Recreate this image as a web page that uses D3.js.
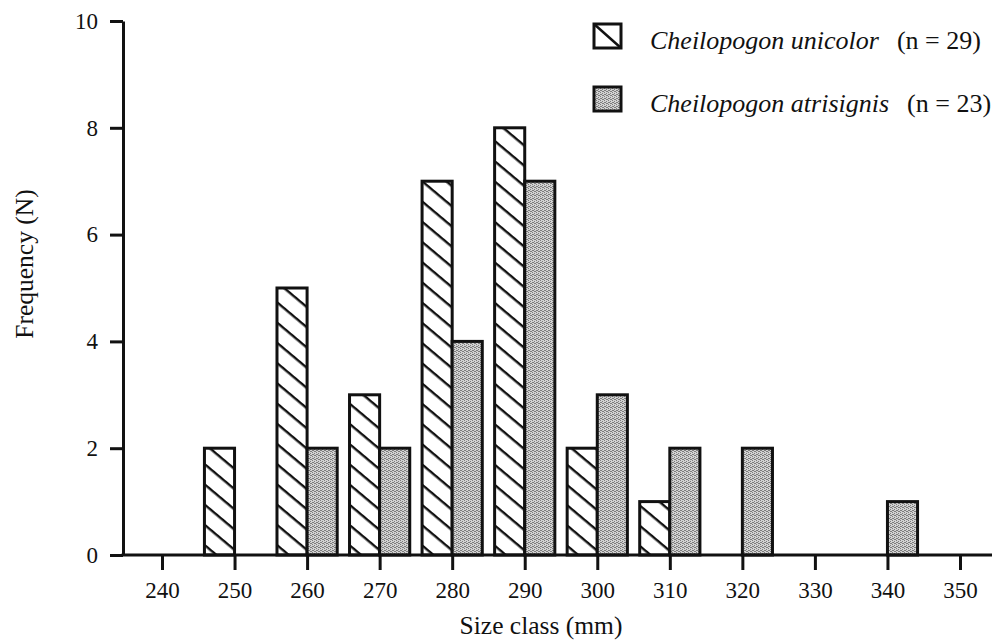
<!DOCTYPE html>
<html>
<head>
<meta charset="utf-8">
<script src="https://cdn.jsdelivr.net/npm/d3@7"></script>
<style>
  html, body { margin: 0; padding: 0; background: #fff; }
  svg { display: block; }
  text { font-family: "Liberation Serif", "Times New Roman", serif; fill: #111; }
</style>
</head>
<body>
<svg id="chart" width="995" height="643"></svg>
<script>
// Size-class frequency of two flying-fish species
const sizeClasses = [250, 260, 270, 280, 290, 300, 310, 320, 330, 340];
const unicolorCounts   = [2, 5, 3, 7, 8, 2, 1, 0, 0, 0];
const atrisignisCounts = [0, 2, 2, 4, 7, 3, 2, 2, 0, 1];
const xTicks = [240, 250, 260, 270, 280, 290, 300, 310, 320, 330, 340, 350];
const yTicks = [0, 2, 4, 6, 8, 10];
const seriesNames = ["Cheilopogon unicolor", "Cheilopogon atrisignis"];
const seriesN = [29, 23];

const svg = d3.select("#chart");
const W = 995, H = 643;
const axisX = 123, axisY = 555;

const x = d3.scaleLinear().domain([240, 350]).range([162, 960]);
const y = d3.scaleLinear().domain([0, 10]).range([axisY, 21]);
const barW = x(244.15) - x(240); // bar width in class units

const defs = svg.append("defs");

// diagonal hatching
const hatch = defs.append("pattern")
  .attr("id", "hatch").attr("patternUnits", "userSpaceOnUse")
  .attr("width", 15.5).attr("height", 15.5)
  .attr("patternTransform", "rotate(40)");
hatch.append("rect").attr("width", 15.5).attr("height", 15.5).attr("fill", "#fff");
hatch.append("line").attr("x1", -2).attr("x2", 18).attr("y1", 7).attr("y2", 7)
  .attr("stroke", "#111").attr("stroke-width", 2.4);

// stippled grey
const stip = defs.append("pattern")
  .attr("id", "stipple").attr("patternUnits", "userSpaceOnUse")
  .attr("width", 4).attr("height", 4);
stip.append("rect").attr("width", 4).attr("height", 4).attr("fill", "#d2d2d2");
[[0,0],[2,1],[1,2],[3,3],[0,2],[2,3]].forEach(([px, py]) =>
  stip.append("rect").attr("x", px).attr("y", py).attr("width", 1).attr("height", 1).attr("fill", "#7d7d7d"));

// bars
const rows = sizeClasses.map((c, i) => ({ c, u: unicolorCounts[i], a: atrisignisCounts[i] }));

svg.append("g").selectAll("rect")
  .data(rows.filter(d => d.u > 0))
  .join("rect")
  .attr("x", d => x(d.c) - barW)
  .attr("y", d => y(d.u))
  .attr("width", barW)
  .attr("height", d => y(0) - y(d.u))
  .attr("fill", "url(#hatch)")
  .attr("stroke", "#111").attr("stroke-width", 3);

svg.append("g").selectAll("rect")
  .data(rows.filter(d => d.a > 0))
  .join("rect")
  .attr("x", d => x(d.c))
  .attr("y", d => y(d.a))
  .attr("width", barW)
  .attr("height", d => y(0) - y(d.a))
  .attr("fill", "url(#stipple)")
  .attr("stroke", "#111").attr("stroke-width", 3);

// y axis
const yAxis = svg.append("g").attr("transform", `translate(${axisX},0)`)
  .call(d3.axisLeft(y).tickValues(yTicks).tickSize(13).tickSizeOuter(0).tickPadding(12));
yAxis.select(".domain").attr("stroke", "#111").attr("stroke-width", 3);
yAxis.selectAll(".tick line").attr("stroke", "#111").attr("stroke-width", 3);
yAxis.selectAll(".tick text").attr("font-size", 23).attr("font-family", "Liberation Serif").attr("fill", "#111");

// x axis
const xAxis = svg.append("g").attr("transform", `translate(0,${axisY})`)
  .call(d3.axisBottom(x).tickValues(xTicks).tickSize(15).tickSizeOuter(0).tickPadding(12));
xAxis.select(".domain").remove();
xAxis.selectAll(".tick line").attr("stroke", "#111").attr("stroke-width", 3);
xAxis.selectAll(".tick text").attr("font-size", 23).attr("font-family", "Liberation Serif").attr("fill", "#111");
svg.append("line")
  .attr("x1", axisX - 1.5).attr("x2", W - 3)
  .attr("y1", axisY).attr("y2", axisY)
  .attr("stroke", "#111").attr("stroke-width", 3);

// axis titles
svg.append("text")
  .attr("x", 541).attr("y", 634)
  .attr("text-anchor", "middle").attr("font-size", 25.5)
  .text("Size class (mm)");
svg.append("text")
  .attr("transform", "translate(33,264) rotate(-90)")
  .attr("text-anchor", "middle").attr("font-size", 25.5)
  .text("Frequency (N)");

// legend
const legend = svg.append("g");
const legendFills = ["#fff", "url(#stipple)"];
seriesNames.forEach((name, i) => {
  const cy = 36 + i * 63;
  const g = legend.append("g");
  g.append("rect")
    .attr("x", 594).attr("y", cy - 12).attr("width", 27).attr("height", 24)
    .attr("fill", legendFills[i])
    .attr("stroke", "#111").attr("stroke-width", 3);
  if (i === 0) {
    g.append("line")
      .attr("x1", 594).attr("y1", cy - 12).attr("x2", 621).attr("y2", cy + 12)
      .attr("stroke", "#111").attr("stroke-width", 2.5);
  }
  const t = g.append("text").attr("x", 650).attr("y", cy + 13).attr("font-size", 26);
  t.append("tspan").attr("font-style", "italic").text(name);
  t.append("tspan").attr("dx", 18).text(`(n = ${seriesN[i]})`);
});
</script>
</body>
</html>
